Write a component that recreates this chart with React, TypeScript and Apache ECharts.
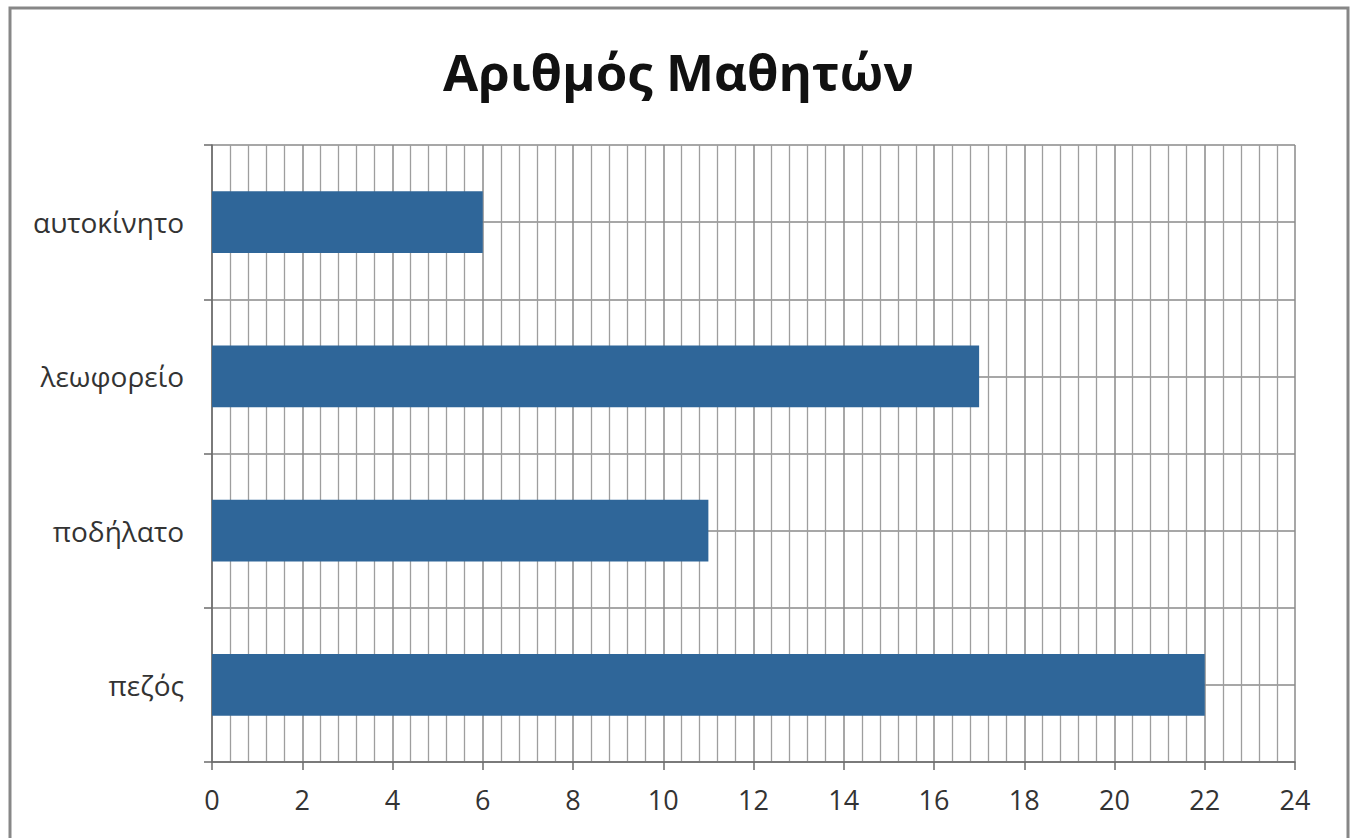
import React, { useEffect, useRef } from "react";
import * as echarts from "echarts";

const TITLE = "Αριθμός Μαθητών";
const categories = ["πεζός", "ποδήλατο", "λεωφορείο", "αυτοκίνητο"];
const values = [22, 11, 17, 6];
const X_MIN = 0;
const X_MAX = 24;
const X_STEP = 2;

const FONT = "'Open Sans', 'Noto Sans', sans-serif";

export default function App() {
  const ref = useRef<HTMLDivElement>(null);
  useEffect(() => {
    if (!ref.current) return;
    const chart = echarts.init(ref.current, null, { renderer: "svg" });
    chart.setOption({
      animation: false,
      backgroundColor: "#ffffff",
      textStyle: { fontFamily: FONT },
      title: {
        text: TITLE,
        left: "center",
        top: 40,
        textStyle: { fontSize: 51, fontWeight: "bold", color: "#111", fontFamily: FONT },
      },
      graphic: [
        {
          type: "rect",
          shape: { x: 10, y: 8, width: 1338, height: 850 },
          style: { fill: "none", stroke: "#878787", lineWidth: 3 },
          z: 100,
        },
      ],
      grid: { left: 212, right: 62, top: 145, bottom: 76, containLabel: false },
      xAxis: {
        type: "value",
        min: X_MIN,
        max: X_MAX,
        interval: X_STEP,
        axisLine: { show: true, lineStyle: { color: "#6b6b6b", width: 1.5 } },
        axisTick: { show: true, length: 8, inside: false, lineStyle: { color: "#6b6b6b", width: 1.5 } },
        axisLabel: { fontSize: 27, color: "#333", margin: 24, fontFamily: FONT },
        splitLine: { show: true, lineStyle: { color: "#8a8a8a", width: 1.5 } },
        minorTick: { show: false, splitNumber: 5 },
        minorSplitLine: { show: true, lineStyle: { color: "#9e9e9e", width: 1.3 } },
      },
      yAxis: [
        {
          type: "category",
          data: categories,
          boundaryGap: true,
          axisLine: { show: true, lineStyle: { color: "#6b6b6b", width: 1.5 } },
          axisTick: { show: true, length: 8, inside: false, alignWithLabel: false, lineStyle: { color: "#6b6b6b", width: 1.5 } },
          axisLabel: { fontSize: 28, color: "#333", margin: 28, fontFamily: FONT },
          splitLine: { show: false },
        },
        {
          type: "value",
          min: 0,
          max: categories.length,
          interval: 0.5,
          position: "left",
          axisLine: { show: false },
          axisTick: { show: false },
          axisLabel: { show: false },
          splitLine: { show: true, lineStyle: { color: "#8a8a8a", width: 1.5 } },
        },
      ],
      series: [
        {
          type: "bar",
          data: values,
          yAxisIndex: 0,
          barWidth: "40%",
          itemStyle: { color: "#2f6699" },
          z: 5,
        },
      ],
    });
    return () => chart.dispose();
  }, []);
  return (
    <div
      ref={ref}
      style={{ position: "fixed", left: 0, top: 0, width: 1357, height: 838 }}
    />
  );
}
